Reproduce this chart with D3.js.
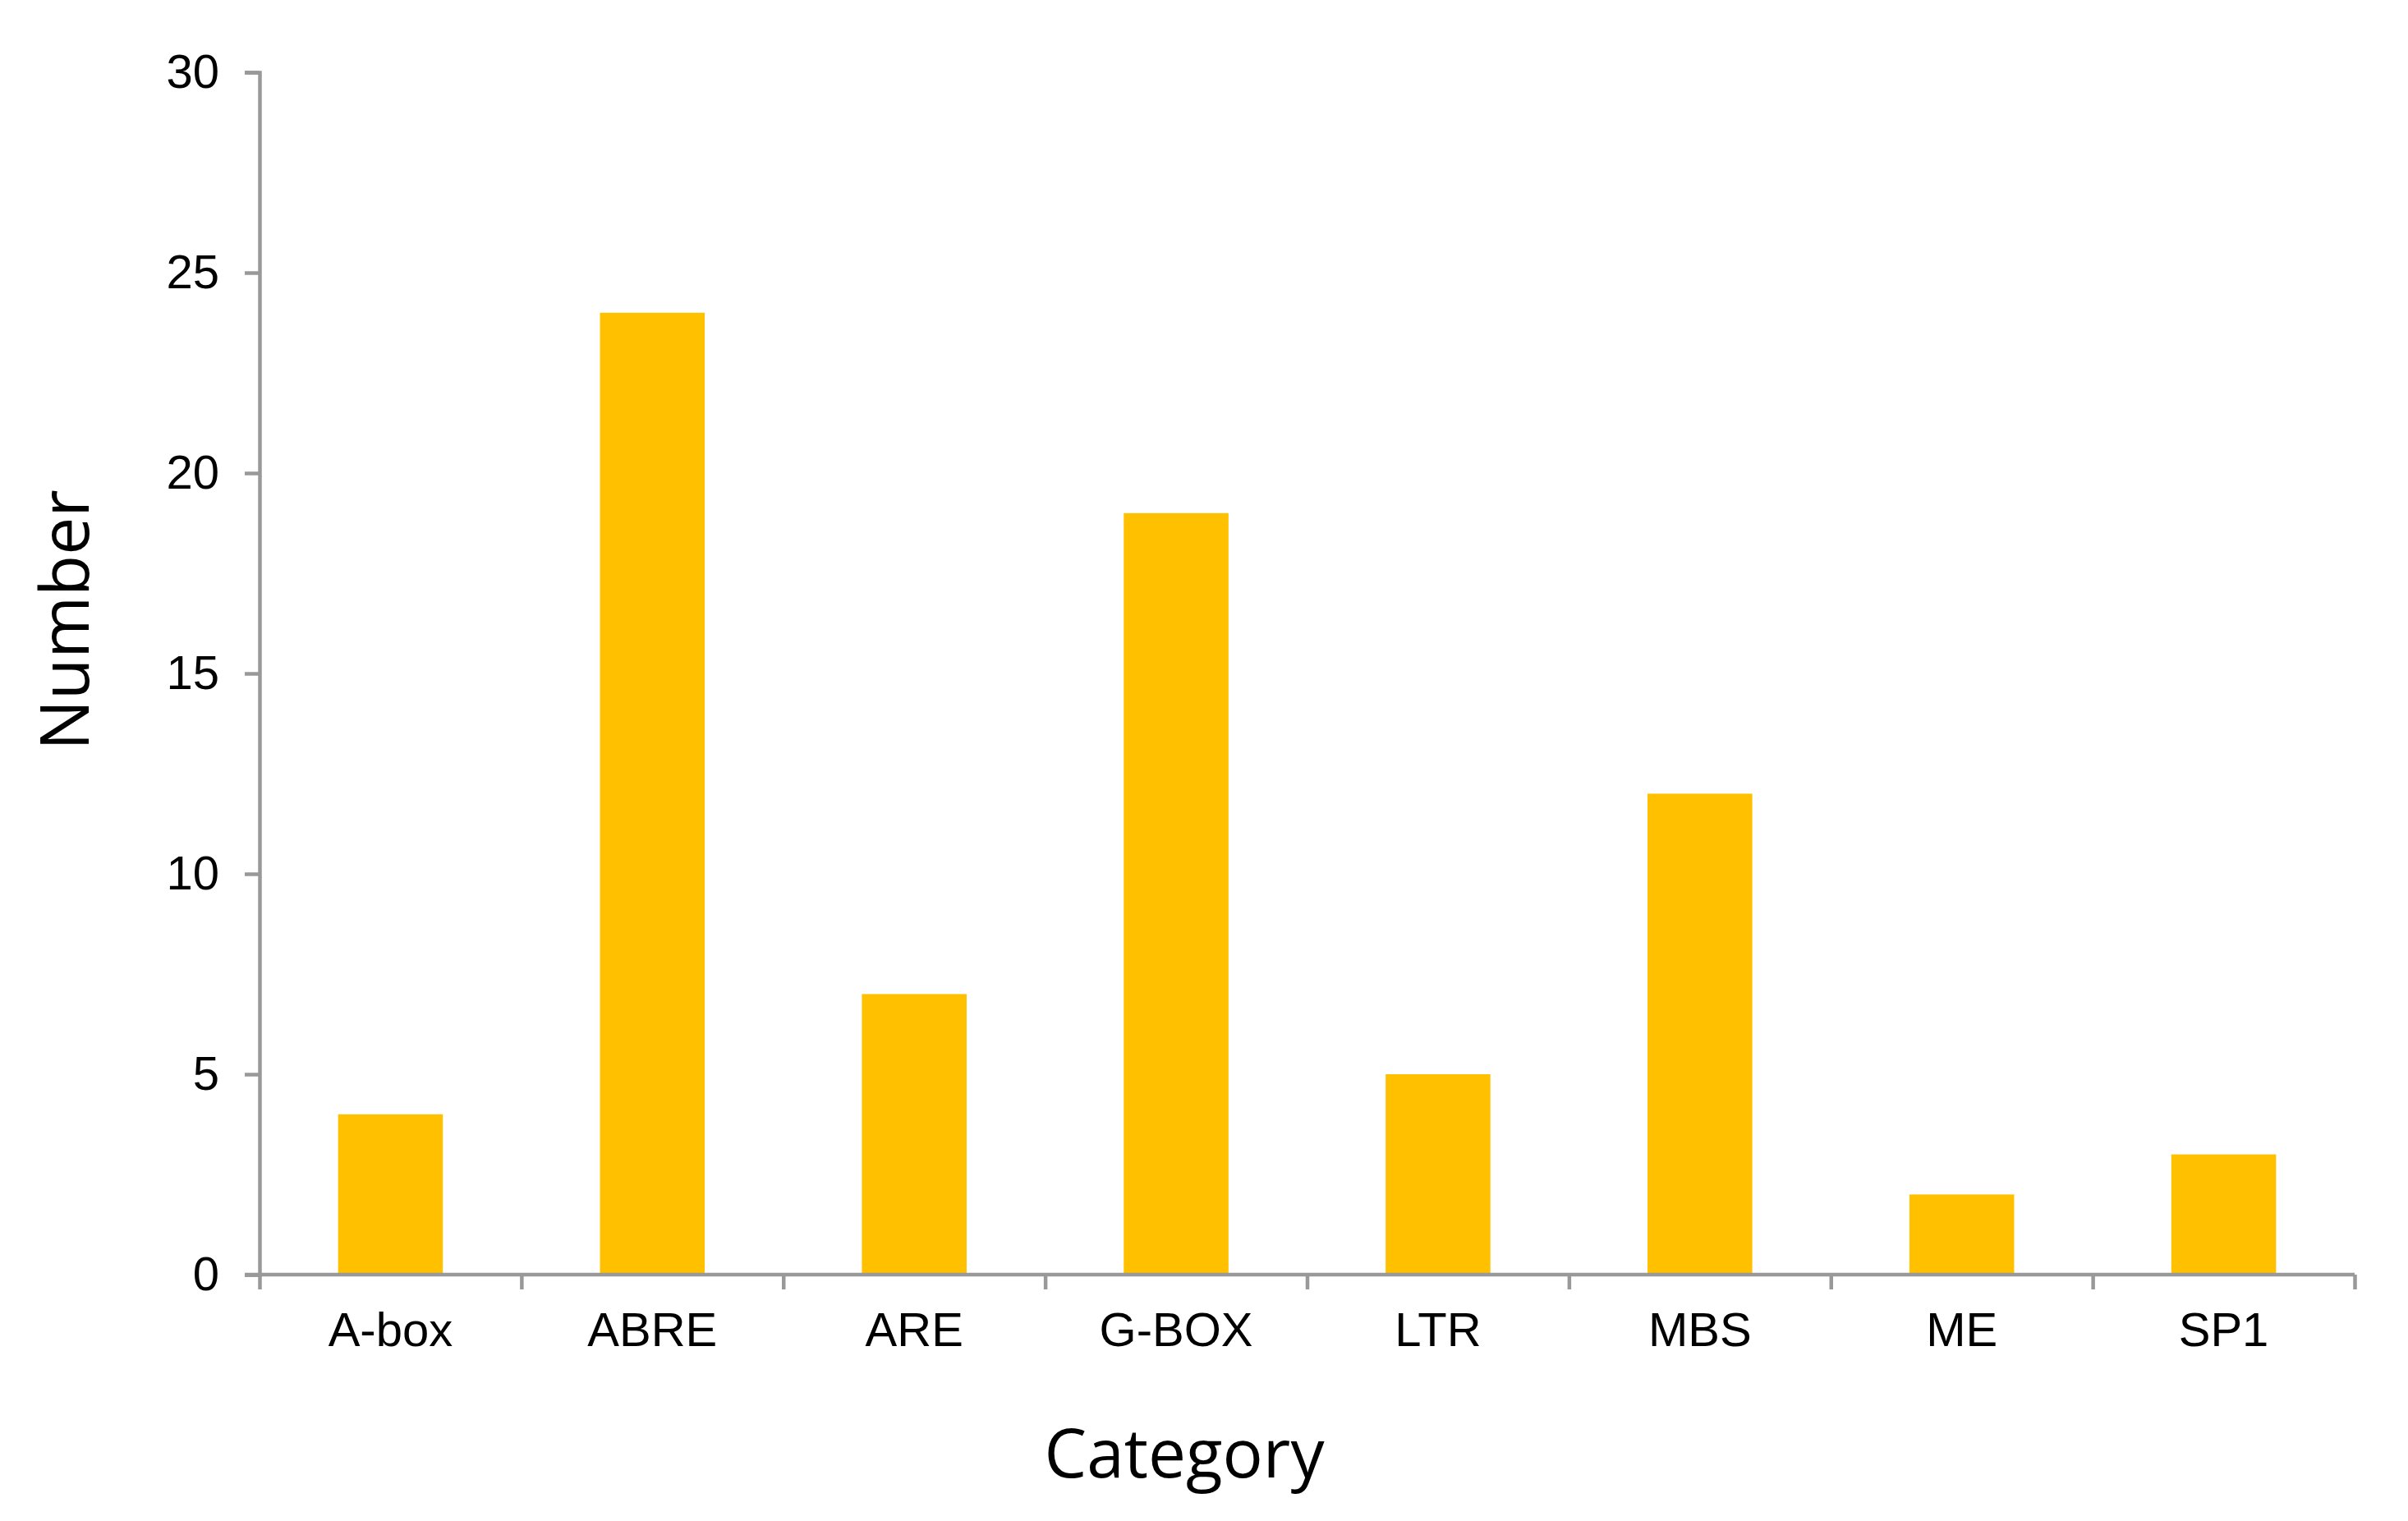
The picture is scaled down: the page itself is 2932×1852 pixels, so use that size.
<!DOCTYPE html>
<html>
<head>
<meta charset="utf-8">
<script src="https://cdn.jsdelivr.net/npm/d3@7"></script>
<style>
  body { margin: 0; background: #fff; }
</style>
</head>
<body>
<script>
let w = 2932;
let h = 1852;

let categories = ["A-box", "ABRE", "ARE", "G-BOX", "LTR", "MBS", "ME", "SP1"];
let counts = [4, 24, 7, 19, 5, 12, 2, 3];
let yTicks = [0, 5, 10, 15, 20, 25, 30];

let plotLeft = 316, plotRight = 2867, plotTop = 88, plotBottom = 1552;
let axisColor = "#999999";

let svg = d3.select("body").append("svg").attr("width", w).attr("height", h);

let xScale = d3
  .scaleBand()
  .domain(categories)
  .range([plotLeft, plotRight])
  .paddingInner(0.6)
  .paddingOuter(0.3);

let yScale = d3.scaleLinear().domain([0, 30]).range([plotBottom, plotTop]);

// bars
svg
  .selectAll("rect.bar")
  .data(categories)
  .enter()
  .append("rect")
  .attr("class", "bar")
  .attr("x", (d) => xScale(d))
  .attr("y", (d, i) => yScale(counts[i]))
  .attr("width", xScale.bandwidth())
  .attr("height", (d, i) => plotBottom - yScale(counts[i]))
  .attr("fill", "#FFC000");

// y axis
let y_axis = d3.axisLeft(yScale).tickValues(yTicks).tickSize(18).tickPadding(31);
let gy = svg
  .append("g")
  .attr("transform", "translate(" + plotLeft + ",0)")
  .call(y_axis);

// x axis boundary ticks
let edge = d3.scaleLinear().domain([0, categories.length]).range([plotLeft, plotRight]);
let x_ticks = d3
  .axisBottom(edge)
  .tickValues(d3.range(categories.length + 1))
  .tickSize(18)
  .tickFormat("");
let gx = svg
  .append("g")
  .attr("transform", "translate(0," + plotBottom + ")")
  .call(x_ticks);

// x labels
let x_labels = d3.axisBottom(xScale).tickSize(0).tickPadding(46);
let gl = svg
  .append("g")
  .attr("transform", "translate(0," + plotBottom + ")")
  .call(x_labels);
gl.select(".domain").remove();

[gx, gy].forEach((g) => {
  g.select(".domain").attr("stroke", axisColor).attr("stroke-width", 4.5);
  g.selectAll(".tick line").attr("stroke", axisColor).attr("stroke-width", 4.5);
});
gx.select(".domain").attr("d", "M" + (plotLeft - 18) + ",0H" + plotRight);

[gx, gy, gl].forEach((g) => {
  g.selectAll("text")
    .attr("fill", "#000")
    .style("font-family", "'Liberation Sans', Arial, sans-serif")
    .style("font-size", "58px");
});

// axis titles
svg
  .append("text")
  .attr("x", 1442)
  .attr("y", 1799)
  .attr("text-anchor", "middle")
  .style("font-family", "'Open Sans', sans-serif")
  .style("font-size", "82px")
  .text("Category");

svg
  .append("text")
  .attr("transform", "translate(108,755) rotate(-90)")
  .attr("text-anchor", "middle")
  .style("font-family", "'Open Sans', sans-serif")
  .style("font-size", "82px")
  .text("Number");
</script>
</body>
</html>
